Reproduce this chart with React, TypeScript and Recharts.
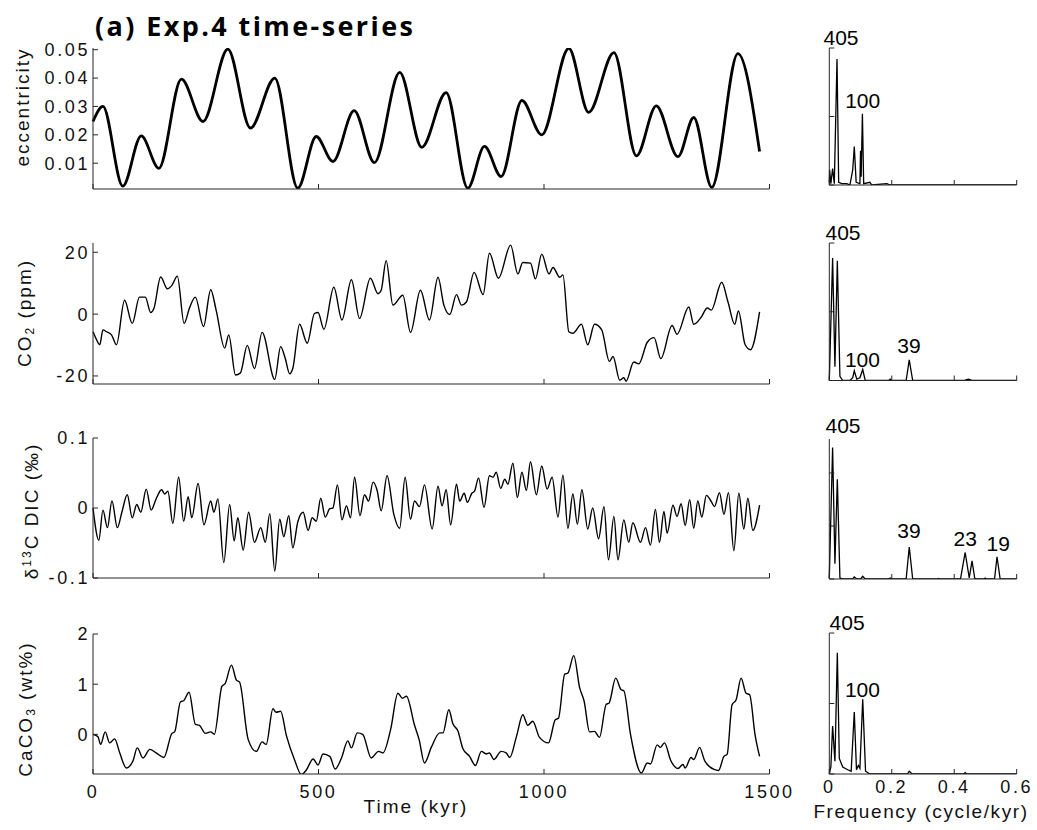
import React from "react";
import { LineChart, Line, XAxis, YAxis, ReferenceDot } from "recharts";

// time series as [time (kyr), value]
const ECC: [number, number][] = [
  [0, 0.0247], [22, 0.03], [66, 0.0019], [107, 0.0196], [146, 0.0082], [196, 0.0396],
  [244, 0.0247], [299, 0.0502], [349, 0.0224], [403, 0.04], [454, 0.0012], [495, 0.0194],
  [532, 0.0106], [579, 0.0285], [624, 0.0102], [680, 0.042], [729, 0.0156], [783, 0.0349],
  [831, 0.0012], [868, 0.0159], [905, 0.0053], [951, 0.0321], [995, 0.02], [1055, 0.0505],
  [1099, 0.0279], [1155, 0.049], [1205, 0.0126], [1249, 0.0302], [1297, 0.0123],
  [1332, 0.0261], [1372, 0.0015], [1430, 0.0486], [1478, 0.0141],
];

const CO2: [number, number][] = [
  [0, -5.7], [7, -8], [15, -9.9], [22, -5.1], [30, -5.7], [41, -6.7], [52, -9.9], [70, 4.5],
  [87, -3], [103, 5.5], [116, 5.5], [128, 0.5], [135, 1.8], [150, 12], [165, 8.2], [175, 9.3],
  [187, 12.3], [202, -3], [214, 2], [227, 5.5], [245, -4], [261, 7.9], [273, 1.3], [292, -11],
  [301, -6.7], [316, -19.7], [327, -19], [342, -10.1], [358, -17.6], [375, -5.9], [403, -21.1],
  [416, -10.5], [426, -14.2], [436, -19.3], [443, -17.6], [458, -3.3], [475, -9.4], [491, 0.2],
  [499, 0.5], [512, -4.9], [534, 8.7], [552, -1.9], [573, 11.1], [591, -1.4], [615, 11.6],
  [632, 6.6], [639, 7.7], [650, 17.3], [665, 2.9], [687, 6.1], [704, -5.9], [726, 7.7],
  [746, -1.9], [765, 11.9], [778, 2.9], [791, -0.1], [806, 6.3], [817, 2.9], [828, 3.9],
  [845, 13.5], [865, 6.3], [879, 19.7], [899, 11.6], [926, 22.3], [942, 13], [953, 16.7],
  [970, 16.5], [981, 11.4], [995, 19.4], [1011, 13], [1020, 15.1], [1035, 11.9], [1042, 12.7],
  [1055, -5.7], [1064, -6.2], [1083, -3.3], [1097, -9.9], [1112, -3.3], [1128, -5.1],
  [1145, -15.3], [1153, -13.7], [1168, -21.4], [1177, -20.6], [1182, -21.7], [1199, -15.5],
  [1210, -16.1], [1229, -9.1], [1244, -7.6], [1259, -14.4], [1284, -3.7], [1295, -6.5],
  [1321, 2.3], [1332, -3.3], [1349, -0.9], [1362, 2], [1371, 1.3], [1394, 10.3], [1408, 3.9],
  [1423, -3.3], [1431, 1], [1446, -9.9], [1458, -11.5], [1478, 0.7],
];

const D13C: [number, number][] = [
  [0, 0], [13, -0.046], [22, -0.003], [32, -0.028], [42, 0.01], [54, -0.028], [64, -0.006],
  [76, 0.019], [87, -0.014], [97, 0.005], [106, -0.006], [118, 0.027], [129, -0.003],
  [140, 0.013], [152, 0.026], [159, 0.02], [166, 0.024], [177, -0.022], [190, 0.044],
  [201, -0.019], [211, 0.016], [219, -0.014], [233, 0.035], [246, -0.024], [261, 0.01],
  [268, -0.006], [277, 0.013], [290, -0.078], [303, 0.005], [313, -0.047], [321, -0.014],
  [333, -0.06], [345, -0.006], [358, -0.049], [372, -0.028], [382, -0.049], [392, -0.008],
  [403, -0.09], [414, -0.016], [423, -0.041], [434, -0.011], [443, -0.057], [454, -0.02],
  [466, -0.006], [477, -0.032], [486, -0.014], [495, -0.019], [505, 0.014], [515, -0.013],
  [525, -0.001], [532, 0], [542, 0.033], [552, -0.017], [562, 0.003], [571, -0.014],
  [580, 0.044], [592, -0.011], [602, 0.019], [611, 0.01], [621, 0.037], [630, 0.025],
  [639, -0.004], [652, 0.046], [667, -0.009], [680, -0.029], [692, 0.044], [704, -0.016],
  [713, 0.01], [724, 0.002], [735, 0.033], [752, -0.03], [765, 0.031], [774, 0.003],
  [783, 0.026], [793, -0.024], [806, 0.034], [813, 0.01], [823, 0.021], [830, 0.008],
  [840, 0.021], [846, 0.024], [855, 0.043], [867, 0.001], [879, 0.046], [887, 0.044],
  [894, 0.051], [904, 0.028], [913, 0.041], [920, 0.034], [931, 0.064], [941, 0.015],
  [951, 0.051], [961, 0.025], [970, 0.066], [983, 0.019], [995, 0.06], [1007, 0.027],
  [1018, 0.044], [1031, -0.013], [1042, 0.047], [1053, -0.029], [1064, 0.02], [1074, -0.023],
  [1084, 0.026], [1097, -0.03], [1108, 0], [1121, -0.044], [1133, 0.002], [1143, -0.074],
  [1155, -0.012], [1164, -0.074], [1177, -0.017], [1188, -0.049], [1197, -0.021],
  [1214, -0.049], [1225, -0.028], [1236, -0.053], [1247, -0.002], [1256, -0.049],
  [1266, -0.005], [1273, -0.036], [1286, 0.004], [1295, -0.012], [1304, 0.006],
  [1313, -0.025], [1323, 0.012], [1332, -0.029], [1341, 0.01], [1350, -0.013], [1360, 0.018],
  [1371, 0.009], [1378, 0.002], [1389, 0.022], [1399, -0.009], [1409, 0.022], [1421, -0.061],
  [1432, 0.021], [1443, -0.03], [1452, 0.014], [1463, -0.032], [1478, 0.004],
];

const CACO3: [number, number][] = [
  [0, 0], [11, -0.05], [17, -0.2], [27, 0.05], [37, -0.17], [48, -0.09], [59, -0.36],
  [74, -0.67], [89, -0.52], [98, -0.27], [111, -0.47], [126, -0.3], [140, -0.37], [157, -0.46],
  [175, 0.02], [181, 0.05], [194, 0.65], [201, 0.67], [213, 0.84], [227, 0.2], [236, 0.18],
  [249, 0.02], [261, 0.05], [269, 0], [286, 0.96], [293, 1.01], [307, 1.38], [318, 1.08],
  [325, 1.04], [344, -0.1], [362, -0.34], [375, -0.15], [384, -0.2], [399, 0.51], [406, 0.44],
  [416, 0.46], [429, -0.03], [447, -0.51], [462, -0.8], [473, -0.71], [488, -0.49],
  [499, -0.61], [510, -0.39], [525, -0.44], [537, -0.69], [551, -0.47], [565, -0.13],
  [573, -0.27], [586, 0.03], [598, 0], [617, -0.47], [633, -0.34], [643, -0.37], [660, 0.1],
  [676, 0.82], [686, 0.72], [695, 0.76], [713, 0.18], [723, -0.1], [735, -0.57], [750, -0.26],
  [769, 0.03], [776, 0.03], [789, 0.49], [798, 0.21], [809, 0.07], [820, -0.28], [835, -0.44],
  [848, -0.62], [861, -0.34], [872, -0.39], [879, -0.37], [889, -0.5], [905, -0.34],
  [916, -0.37], [924, -0.46], [939, -0.04], [953, 0.39], [964, 0.18], [975, 0.26],
  [990, -0.06], [1010, -0.17], [1025, 0.29], [1032, 0.32], [1046, 1.2], [1053, 1.22],
  [1066, 1.57], [1079, 0.93], [1089, 0.66], [1101, 0.05], [1112, 0.06], [1123, -0.06],
  [1138, 0.6], [1144, 0.62], [1159, 1.12], [1171, 0.89], [1177, 0.87], [1192, -0.01],
  [1216, -0.77], [1229, -0.57], [1236, -0.59], [1251, -0.21], [1258, -0.26], [1267, -0.17],
  [1281, -0.52], [1297, -0.68], [1308, -0.6], [1313, -0.67], [1326, -0.46], [1332, -0.5],
  [1345, -0.26], [1356, -0.52], [1377, -0.7], [1387, -0.72], [1399, -0.44], [1406, -0.4],
  [1417, 0.59], [1426, 0.69], [1437, 1.12], [1448, 0.82], [1456, 0.79], [1468, -0.01],
  [1478, -0.44],
];

// power spectra, [frequency as labelled, relative power]
const ECC_SPEC: [number, number][] = [
  [0, 0.02], [0.001, 0.11], [0.005, 0.01], [0.0106, 0.12], [0.016, 0.01], [0.0247, 0.92],
  [0.03, 0.02], [0.04, 0.01], [0.056, 0.01], [0.066, 0], [0.075, 0.11], [0.08, 0.28],
  [0.086, 0.02], [0.098, 0.01], [0.1, 0.25], [0.102, 0.06], [0.106, 0.52], [0.11, 0.01],
  [0.13, 0.02], [0.136, 0], [0.184, 0.01], [0.195, 0], [0.6, 0],
];
const CO2_SPEC: [number, number][] = [
  [0, 0], [0.0106, 0.89], [0.018, 0.1], [0.0257, 0.87], [0.034, 0.03], [0.043, 0],
  [0.066, 0], [0.075, 0.02], [0.08, 0.07], [0.088, 0.01], [0.098, 0.02], [0.107, 0.08],
  [0.115, 0], [0.19, 0], [0.195, 0.01], [0.2, 0], [0.246, 0], [0.256, 0.15], [0.267, 0],
  [0.43, 0], [0.445, 0.01], [0.46, 0], [0.6, 0],
];
const D13C_SPEC: [number, number][] = [
  [0, 0.01], [0.0106, 1.24], [0.018, 0.145], [0.0257, 0.94], [0.034, 0.01], [0.043, 0],
  [0.075, 0], [0.08, 0.02], [0.088, 0], [0.1, 0], [0.107, 0.025], [0.115, 0], [0.19, 0],
  [0.195, 0.01], [0.2, 0], [0.246, 0], [0.256, 0.3], [0.267, 0], [0.345, 0], [0.35, 0.005],
  [0.355, 0], [0.42, 0], [0.435, 0.25], [0.448, 0.01], [0.457, 0.17], [0.466, 0],
  [0.495, 0], [0.499, 0.008], [0.503, 0], [0.529, 0], [0.537, 0.21], [0.547, 0], [0.6, 0],
];
const CACO3_SPEC: [number, number][] = [
  [0, 0], [0.005, 0.05], [0.0106, 0.34], [0.018, 0.09], [0.0257, 0.86], [0.032, 0.11],
  [0.043, 0.05], [0.059, 0.03], [0.07, 0.02], [0.08, 0.44], [0.087, 0.03], [0.093, 0.06],
  [0.098, 0.04], [0.107, 0.53], [0.116, 0.02], [0.13, 0], [0.25, 0], [0.256, 0.02],
  [0.265, 0], [0.43, 0], [0.435, 0.01], [0.44, 0], [0.6, 0],
];

// period labels on the spectra: [text, frequency, height]
const ECC_PEAKS: [string, number, number][] = [["405", 0.0375, 1.024], ["100", 0.107, 0.563]];
const CO2_PEAKS: [string, number, number][] = [["405", 0.044, 1.024], ["100", 0.106, 0.1], ["39", 0.255, 0.2]];
const D13C_PEAKS: [string, number, number][] = [
  ["405", 0.044, 1.38], ["39", 0.255, 0.39], ["23", 0.435, 0.31], ["19", 0.541, 0.26],
];
const CACO3_PEAKS: [string, number, number][] = [["405", 0.057, 1.023], ["100", 0.106, 0.547]];

const TIME_TICKS = [0, 500, 1000, 1500];
const FREQ_TICKS = [0, 0.2, 0.4, 0.6];

const FONT = "'Liberation Sans', Arial, sans-serif";
const AXIS = "#262626";
const TOP_PAD = 30;

const toRows = (pts: [number, number][]) => pts.map(([t, v]) => ({ t, v }));
const blank = () => "";

function TimePanel({ pts, domain, ticks, top, height, showX, width }: any) {
  return (
    <div style={{ position: "absolute", left: 0, top: top - TOP_PAD }}>
      <LineChart
        width={800}
        height={height + TOP_PAD + 50}
        data={toRows(pts)}
        margin={{ top: TOP_PAD, right: 30.5, bottom: 0, left: 0 }}
      >
        <XAxis
          dataKey="t"
          type="number"
          domain={[0, 1500]}
          ticks={TIME_TICKS}
          height={50}
          tickSize={-5}
          tickMargin={16}
          stroke={AXIS}
          tick={{ fill: "#111", fontSize: 18, fontFamily: FONT }}
          tickFormatter={showX ? undefined : blank}
        />
        <XAxis
          xAxisId="top"
          orientation="top"
          type="number"
          domain={[0, 1500]}
          ticks={TIME_TICKS}
          height={0}
          tickSize={-5}
          stroke={AXIS}
          tickFormatter={blank}
        />
        <YAxis
          type="number"
          domain={domain}
          ticks={ticks}
          allowDataOverflow
          width={93}
          tickSize={-5}
          tickMargin={8}
          stroke={AXIS}
          tick={{ fill: "#111", fontSize: 18, fontFamily: FONT }}
        />
        <YAxis
          yAxisId="right"
          orientation="right"
          type="number"
          domain={domain}
          ticks={ticks}
          allowDataOverflow
          width={0}
          tickSize={-5}
          stroke={AXIS}
          tickFormatter={blank}
        />
        <Line
          dataKey="v"
          type="monotone"
          stroke="#000"
          strokeWidth={width}
          dot={false}
          isAnimationActive={false}
        />
      </LineChart>
    </div>
  );
}

function SpecPanel({ pts, peaks, ymax, top, height, showX }: any) {
  return (
    <div style={{ position: "absolute", left: 800, top: top - TOP_PAD }}>
      <LineChart
        width={237}
        height={height + TOP_PAD + 50}
        data={toRows(pts)}
        margin={{ top: TOP_PAD, right: 20.3, bottom: 0, left: 0 }}
      >
        <XAxis
          dataKey="t"
          type="number"
          domain={[0, 0.6]}
          ticks={FREQ_TICKS}
          height={50}
          tickSize={-5}
          tickMargin={11}
          stroke={AXIS}
          tick={{ fill: "#111", fontSize: 18, fontFamily: FONT }}
          tickFormatter={showX ? (v: number) => String(v) : blank}
        />
        <XAxis
          xAxisId="top"
          orientation="top"
          type="number"
          domain={[0, 0.6]}
          ticks={FREQ_TICKS}
          height={0}
          tickSize={-5}
          stroke={AXIS}
          tickFormatter={blank}
        />
        <YAxis
          type="number"
          domain={[0, ymax]}
          ticks={[0, 0.5, 1].filter((v) => v <= ymax)}
          allowDataOverflow
          width={29.3}
          tickSize={-5}
          stroke={AXIS}
          tickFormatter={blank}
        />
        <YAxis
          yAxisId="right"
          orientation="right"
          type="number"
          domain={[0, ymax]}
          ticks={[0, 0.5, 1].filter((v) => v <= ymax)}
          allowDataOverflow
          width={0}
          tickSize={-5}
          stroke={AXIS}
          tickFormatter={blank}
        />
        <Line
          dataKey="v"
          type="linear"
          stroke="#000"
          strokeWidth={1.3}
          dot={false}
          isAnimationActive={false}
        />
        {peaks.map(([text, x, y]: [string, number, number]) => (
          <ReferenceDot
            key={text}
            x={x}
            y={y}
            r={0}
            stroke="none"
            ifOverflow="visible"
            label={{ value: text, position: "top", offset: 0, fill: "#000", fontSize: 21, fontFamily: FONT }}
          />
        ))}
      </LineChart>
    </div>
  );
}

function YTitle({ x, y, children }: any) {
  return (
    <text
      transform={`translate(${x},${y}) rotate(-90)`}
      textAnchor="middle"
      fontFamily={FONT}
      fontSize={19}
      letterSpacing={2}
      fill="#111"
    >
      {children}
    </text>
  );
}

export default function App() {
  return (
    <div style={{ position: "absolute", left: 0, top: 0, width: 1037, height: 830, background: "#fff" }}>
      <style>{`.recharts-cartesian-axis-tick-value { letter-spacing: 2.6px; }`}</style>
      <TimePanel pts={ECC} domain={[0.0009, 0.0506]} ticks={[0.01, 0.02, 0.03, 0.04, 0.05]} top={48} height={141} width={2.8} />
      <TimePanel pts={CO2} domain={[-22.6, 23]} ticks={[-20, 0, 20]} top={243} height={141} width={1.4} />
      <TimePanel pts={D13C} domain={[-0.1, 0.1]} ticks={[-0.1, 0, 0.1]} top={438} height={140} width={1.4} />
      <TimePanel pts={CACO3} domain={[-0.79, 2]} ticks={[0, 1, 2]} top={634} height={140} width={1.4} showX />

      <SpecPanel pts={ECC_SPEC} peaks={ECC_PEAKS} ymax={1} top={48} height={137} />
      <SpecPanel pts={CO2_SPEC} peaks={CO2_PEAKS} ymax={1} top={243} height={137.5} />
      <SpecPanel pts={D13C_SPEC} peaks={D13C_PEAKS} ymax={1.32} top={439} height={140} />
      <SpecPanel pts={CACO3_SPEC} peaks={CACO3_PEAKS} ymax={1} top={633} height={141} showX />

      <svg width={1037} height={830} style={{ position: "absolute", left: 0, top: 0, pointerEvents: "none" }}>
        <text
          x={95}
          y={36}
          fontFamily="'Open Sans', 'Noto Sans', sans-serif"
          fontWeight={700}
          fontSize={27}
          letterSpacing={2.4}
          fill="#000"
        >
          (a) Exp.4 time-series
        </text>
        <YTitle x={29} y={107}>eccentricity</YTitle>
        <YTitle x={31} y={313}>
          CO<tspan fontSize={12} dy={3}>2</tspan>
          <tspan dy={-3}> (ppm)</tspan>
        </YTitle>
        <YTitle x={38} y={511}>
          δ<tspan fontSize={12} dy={-7}>13</tspan>
          <tspan dy={7}>C DIC (‰)</tspan>
        </YTitle>
        <YTitle x={32} y={709}>
          CaCO<tspan fontSize={12} dy={3}>3</tspan>
          <tspan dy={-3}> (wt%)</tspan>
        </YTitle>
        <text x={416} y={813} textAnchor="middle" fontFamily={FONT} fontSize={19} letterSpacing={2} fill="#111">
          Time (kyr)
        </text>
        <text x={921} y={818} textAnchor="middle" fontFamily={FONT} fontSize={19} letterSpacing={1.6} fill="#111">
          Frequency (cycle/kyr)
        </text>
      </svg>
    </div>
  );
}
